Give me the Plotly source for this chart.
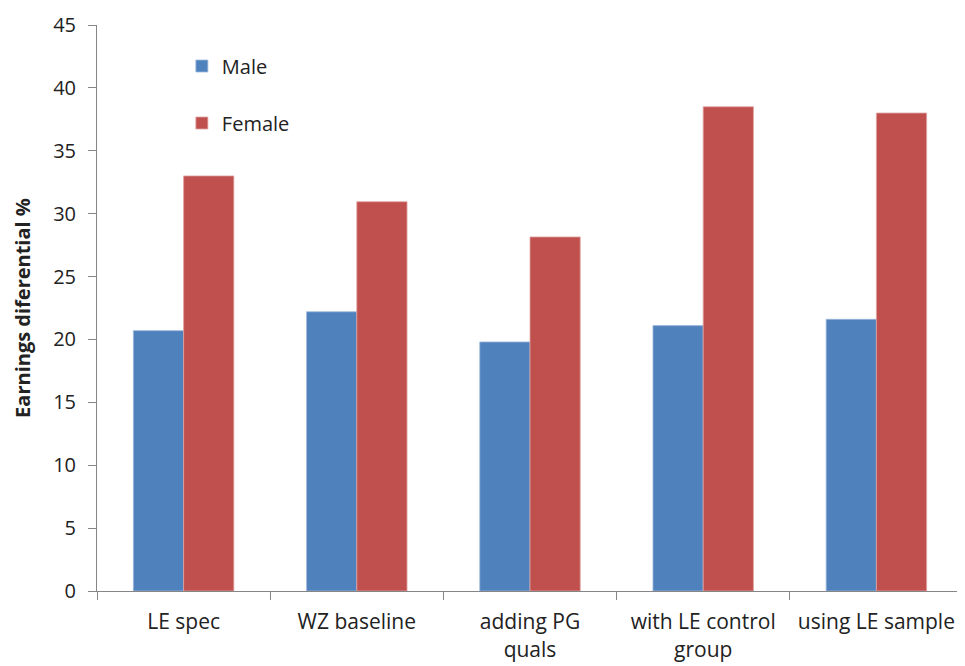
import plotly.graph_objects as go

categories = ["LE spec", "WZ baseline", "adding PG<br>quals", "with LE control<br>group", "using LE sample"]
male = [20.7, 22.2, 19.8, 21.1, 21.6]
female = [33.0, 30.95, 28.15, 38.5, 38.0]
y_ticks = [0, 5, 10, 15, 20, 25, 30, 35, 40, 45]

FONT = "'Open Sans', sans-serif"

fig = go.Figure()
fig.add_trace(go.Bar(x=categories, y=male, name="Male", legendgroup="m",
                     marker=dict(color="#4F81BD", line=dict(color="#9DB7DC", width=0.8))))
fig.add_trace(go.Bar(x=categories, y=female, name="Female", legendgroup="f",
                     marker=dict(color="#C0504D", line=dict(color="#DFA3A2", width=0.8))))

fig.update_layout(
    width=965, height=666,
    margin=dict(l=89, r=10, t=17, b=83, autoexpand=False),
    paper_bgcolor="white", plot_bgcolor="white",
    barmode="group", bargap=0.42, bargroupgap=0,
    font=dict(family=FONT, size=20, color="#222222"),
    showlegend=True,
    legend=dict(x=0.098, y=0.962, xanchor="left", yanchor="top",
                bgcolor="rgba(0,0,0,0)", font=dict(size=20),
                traceorder="grouped", tracegroupgap=28, itemwidth=30),
    xaxis=dict(showline=True, linecolor="#868686", linewidth=1,
               ticks="outside", ticklen=8, tickcolor="#868686", tickson="boundaries",
               showgrid=False, tickfont=dict(size=21), ticklabelstandoff=12,
               automargin=False),
    yaxis=dict(range=[0, 45], tickvals=y_ticks, showline=True, linecolor="#868686",
               linewidth=1, ticks="outside", ticklen=8, tickcolor="#868686",
               showgrid=False, zeroline=False, tickfont=dict(size=20),
               ticklabelstandoff=8, automargin=False,
               title=dict(text="<b>Earnings diferential %</b>", font=dict(size=20), standoff=17)),
)

fig.write_html("out.html")
